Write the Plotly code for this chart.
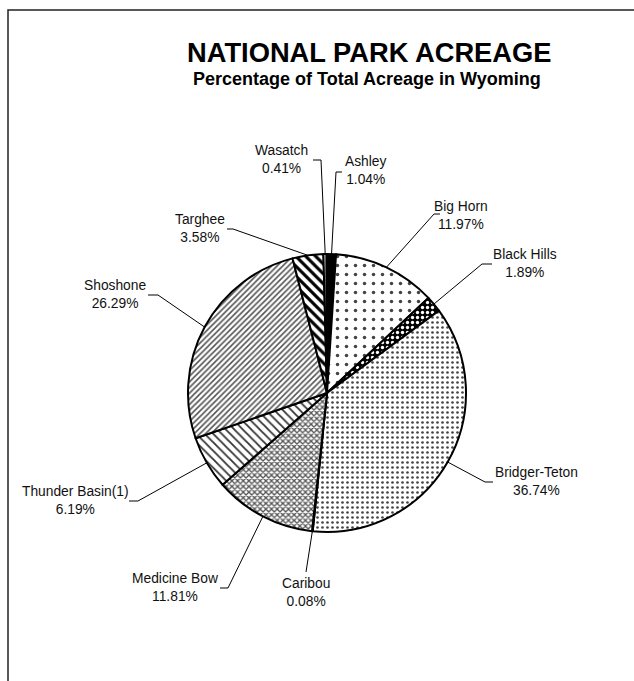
import math
import plotly.graph_objects as go

# ---- data ----
parks = ["Ashley", "Big Horn", "Black Hills", "Bridger-Teton", "Caribou",
         "Medicine Bow", "Thunder Basin(1)", "Shoshone", "Targhee", "Wasatch"]
shares = [1.04, 11.97, 1.89, 36.74, 0.08, 11.81, 6.19, 26.29, 3.58, 0.41]

title_text = "NATIONAL PARK ACREAGE"
subtitle_text = "Percentage of Total Acreage in Wyoming"

# ---- layout / style ----
W, H = 634, 681
CX, CY, R = 327, 393, 139  # pie centre and radius in pixels

# label block centre x, y, leader elbow x, horizontal end x (pixels)
label_pos = {
    "Ashley": (366, 171, 336, 342),
    "Big Horn": (461, 215, 434, 440),
    "Black Hills": (525, 263, 482, 492),
    "Bridger-Teton": (536, 482, 485, 493),
    "Caribou": (306, 592, 306, 306),
    "Medicine Bow": (175, 587, 228, 220),
    "Thunder Basin(1)": (75, 500, 138, 129),
    "Shoshone": (115, 294, 158, 148),
    "Targhee": (200, 229, 233, 227),
    "Wasatch": (281, 159, 321, 313),
}
elbow_y = {
    "Ashley": 172, "Big Horn": 214, "Black Hills": 264, "Bridger-Teton": 482,
    "Caribou": 572, "Medicine Bow": 588, "Thunder Basin(1)": 501,
    "Shoshone": 295, "Targhee": 229, "Wasatch": 160,
}

pat_shape = ["", ".", ".", ".", "x", "x", "\\", "/", "\\", "|"]
pat_fg = ["black", "#444", "white", "#444", "#444", "#555", "#333", "#555", "black", "#333"]
pat_bg = ["black", "white", "black", "white", "white", "white", "white", "white", "white", "white"]
pat_size = [8, 9, 5, 5, 4, 4, 6, 4, 7, 4]
pat_sol = [0.5, 0.12, 0.35, 0.22, 0.4, 0.55, 0.3, 0.4, 0.45, 0.4]


def px2paper(x, y):
    return x / W, 1 - y / H


fig = go.Figure()
fig.add_trace(go.Pie(
    labels=parks, values=shares, sort=False, direction="clockwise", rotation=0,
    textinfo="none", hoverinfo="label+percent", showlegend=False,
    domain=dict(x=[(CX - R) / W, (CX + R) / W],
                y=[1 - (CY + R) / H, 1 - (CY - R) / H]),
    marker=dict(colors=pat_bg, line=dict(color="black", width=2),
                pattern=dict(shape=pat_shape, fgcolor=pat_fg, bgcolor=pat_bg,
                             size=pat_size, solidity=pat_sol, fillmode="replace")),
))

shapes = []
annotations = []
total = sum(shares)
cum = 0.0
for name, v in zip(parks, shares):
    mid = (cum + v / 2) / total
    cum += v
    ang = 2 * math.pi * mid
    ex, ey = CX + R * math.sin(ang), CY - R * math.cos(ang)
    lx, ly, bx, hx = label_pos[name]
    by = elbow_y[name]
    x0, y0 = px2paper(ex, ey)
    x1, y1 = px2paper(bx, by)
    x2, y2 = px2paper(hx, by)
    shapes.append(dict(type="line", xref="paper", yref="paper", x0=x0, y0=y0, x1=x1, y1=y1,
                       line=dict(color="black", width=1)))
    if hx != bx:
        shapes.append(dict(type="line", xref="paper", yref="paper", x0=x1, y0=y1, x1=x2, y1=y2,
                           line=dict(color="black", width=1)))
    ax, ay = px2paper(lx, ly)
    annotations.append(dict(x=ax, y=ay, xref="paper", yref="paper", showarrow=False,
                            xanchor="center", yanchor="middle", align="center",
                            text=f"{name}<br>{v:.2f}%",
                            font=dict(family="Liberation Sans, Arial", size=13.8, color="#111")))

# title and subtitle
tx, ty = px2paper(369, 53)
annotations.append(dict(x=tx, y=ty, xref="paper", yref="paper", showarrow=False,
                        xanchor="center", yanchor="middle", text=f"<b>{title_text}</b>",
                        font=dict(family="Liberation Sans, Arial", size=27.3, color="black")))
sx, sy = px2paper(367, 79)
annotations.append(dict(x=sx, y=sy, xref="paper", yref="paper", showarrow=False,
                        xanchor="center", yanchor="middle", text=f"<b>{subtitle_text}</b>",
                        font=dict(family="Liberation Sans, Arial", size=18, color="black")))

# outer border
bx0, by0 = px2paper(8, 10)
shapes.append(dict(type="rect", xref="paper", yref="paper", x0=bx0, y0=-0.05, x1=1.05, y1=by0,
                   line=dict(color="#222", width=1.5), fillcolor="rgba(0,0,0,0)"))

fig.update_layout(width=W, height=H, margin=dict(l=0, r=0, t=0, b=0),
                  paper_bgcolor="white", plot_bgcolor="white",
                  shapes=shapes, annotations=annotations)
fig.write_html("out.html", config={"displayModeBar": False},
               post_script="document.body.style.margin='0';document.body.style.padding='0';")
